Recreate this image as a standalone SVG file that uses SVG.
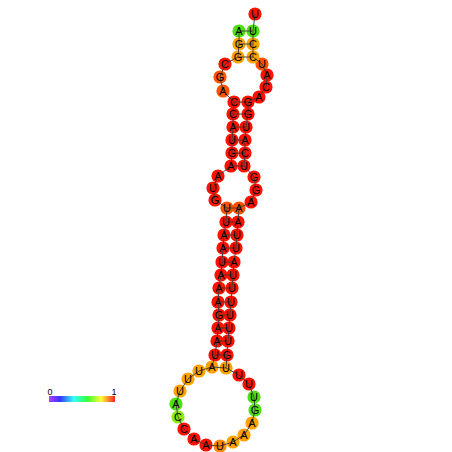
<svg xmlns="http://www.w3.org/2000/svg" width="452" height="452" viewBox="0 0 452 452">
<defs>
<style>
.n circle{stroke:none}
.n text{font-family:"Liberation Sans",Arial,sans-serif;font-size:11px;fill:#000;text-anchor:middle}
.r{fill:#ff1100}.or{fill:#ff5200}.o{fill:#ffa300}.o2{fill:#ff8a00}.g{fill:#4ee010}.yg{fill:#86ee10}
.bb{fill:none;stroke:#3a3a3a;stroke-width:0.9}
.bp{stroke:#3a3a3a;stroke-width:0.9}
.lbl{font-family:"Liberation Sans",Arial,sans-serif;font-size:9px;fill:#000;text-anchor:middle}
</style>
<linearGradient id="cb" x1="0" y1="0" x2="1" y2="0">
<stop offset="0" stop-color="#b040ff"/>
<stop offset="0.167" stop-color="#3535ff"/>
<stop offset="0.375" stop-color="#35ffff"/>
<stop offset="0.583" stop-color="#35ff35"/>
<stop offset="0.79" stop-color="#ffff35"/>
<stop offset="1" stop-color="#ff2020"/>
</linearGradient>
</defs>
<rect width="452" height="452" fill="#fff"/>
<g id="nodes-circles">
<circle class="g" cx="239" cy="31" r="6.6"/>
<circle class="o" cx="239" cy="44" r="6.6"/>
<circle class="o" cx="238" cy="57" r="6.6"/>
<circle class="r" cx="225" cy="64" r="6.6"/>
<circle class="or" cx="220" cy="77" r="6.6"/>
<circle class="or" cx="223" cy="91" r="6.6"/>
<circle class="r" cx="234" cy="102" r="6.6"/>
<circle class="r" cx="233" cy="114" r="6.6"/>
<circle class="r" cx="233" cy="127" r="6.6"/>
<circle class="r" cx="232" cy="140" r="6.6"/>
<circle class="r" cx="232" cy="153" r="6.6"/>
<circle class="r" cx="231" cy="166" r="6.6"/>
<circle class="r" cx="218" cy="176" r="6.6"/>
<circle class="r" cx="213" cy="188" r="6.6"/>
<circle class="r" cx="215" cy="200" r="6.6"/>
<circle class="or" cx="227" cy="208" r="6.6"/>
<circle class="r" cx="226" cy="222" r="6.6"/>
<circle class="r" cx="224" cy="235" r="6.6"/>
<circle class="r" cx="223" cy="248" r="6.6"/>
<circle class="r" cx="222" cy="262" r="6.6"/>
<circle class="r" cx="221" cy="275" r="6.6"/>
<circle class="r" cx="219" cy="288" r="6.6"/>
<circle class="r" cx="218" cy="302" r="6.6"/>
<circle class="r" cx="219" cy="315" r="6.6"/>
<circle class="r" cx="218" cy="328" r="6.6"/>
<circle class="r" cx="217" cy="341" r="6.6"/>
<circle class="r" cx="215" cy="355" r="6.6"/>
<circle class="o" cx="212" cy="367" r="6.6"/>
<circle class="o" cx="199" cy="371" r="6.6"/>
<circle class="o" cx="188" cy="379" r="6.6"/>
<circle class="o" cx="180" cy="391" r="6.6"/>
<circle class="g" cx="176" cy="404" r="6.6"/>
<circle class="yg" cx="178" cy="417" r="6.6"/>
<circle class="r" cx="184" cy="429" r="6.6"/>
<circle class="r" cx="194" cy="439" r="6.6"/>
<circle class="r" cx="206" cy="445" r="6.6"/>
<circle class="o2" cx="220" cy="446" r="6.6"/>
<circle class="o" cx="233" cy="442" r="6.6"/>
<circle class="o" cx="244" cy="435" r="6.6"/>
<circle class="o" cx="252" cy="423" r="6.6"/>
<circle class="g" cx="255" cy="410" r="6.6"/>
<circle class="g" cx="254" cy="397" r="6.6"/>
<circle class="r" cx="249" cy="384" r="6.6"/>
<circle class="r" cx="239" cy="375" r="6.6"/>
<circle class="o" cx="226" cy="368" r="6.6"/>
<circle class="r" cx="227" cy="355" r="6.6"/>
<circle class="r" cx="228" cy="341" r="6.6"/>
<circle class="r" cx="229" cy="328" r="6.6"/>
<circle class="r" cx="230" cy="315" r="6.6"/>
<circle class="r" cx="231" cy="302" r="6.6"/>
<circle class="r" cx="232" cy="288" r="6.6"/>
<circle class="r" cx="233" cy="275" r="6.6"/>
<circle class="r" cx="234" cy="262" r="6.6"/>
<circle class="r" cx="236" cy="248" r="6.6"/>
<circle class="r" cx="237" cy="235" r="6.6"/>
<circle class="r" cx="238" cy="222" r="6.6"/>
<circle class="or" cx="239" cy="208" r="6.6"/>
<circle class="r" cx="251" cy="202" r="6.6"/>
<circle class="r" cx="256" cy="190" r="6.6"/>
<circle class="r" cx="254" cy="177" r="6.6"/>
<circle class="r" cx="244" cy="166" r="6.6"/>
<circle class="r" cx="245" cy="153" r="6.6"/>
<circle class="r" cx="245" cy="140" r="6.6"/>
<circle class="r" cx="246" cy="127" r="6.6"/>
<circle class="r" cx="248" cy="114" r="6.6"/>
<circle class="r" cx="248" cy="102" r="6.6"/>
<circle class="r" cx="259" cy="97" r="6.6"/>
<circle class="r" cx="266" cy="87" r="6.6"/>
<circle class="r" cx="267" cy="75" r="6.6"/>
<circle class="or" cx="262" cy="64" r="6.6"/>
<circle class="o" cx="253" cy="57" r="6.6"/>
<circle class="o" cx="253" cy="44" r="6.6"/>
<circle class="g" cx="253" cy="31" r="6.6"/>
<circle class="r" cx="255" cy="14" r="6.6"/>
</g>
<g id="connectors">
<path class="bb" d="M239,31 L239,44 L238,57 L225,64 L220,77 L223,91 L234,102 L233,114 L233,127 L232,140 L232,153 L231,166 L218,176 L213,188 L215,200 L227,208 L226,222 L224,235 L223,248 L222,262 L221,275 L219,288 L218,302 L219,315 L218,328 L217,341 L215,355 L212,367 L199,371 L188,379 L180,391 L176,404 L178,417 L184,429 L194,439 L206,445 L220,446 L233,442 L244,435 L252,423 L255,410 L254,397 L249,384 L239,375 L226,368 L227,355 L228,341 L229,328 L230,315 L231,302 L232,288 L233,275 L234,262 L236,248 L237,235 L238,222 L239,208 L251,202 L256,190 L254,177 L244,166 L245,153 L245,140 L246,127 L248,114 L248,102 L259,97 L266,87 L267,75 L262,64 L253,57 L253,44 L253,31 L255,14"/>
<path class="bp" d="M239,31 L253,31 M239,44 L253,44 M238,57 L253,57 M234,102 L248,102 M233,114 L248,114 M233,127 L246,127 M232,140 L245,140 M232,153 L245,153 M231,166 L244,166 M227,208 L239,208 M226,222 L238,222 M224,235 L237,235 M223,248 L236,248 M222,262 L234,262 M221,275 L233,275 M219,288 L232,288 M218,302 L231,302 M219,315 L230,315 M218,328 L229,328 M217,341 L228,341 M215,355 L227,355 M212,367 L226,368"/>
</g>
<g id="nodes-labels" class="n">
<g id="n1"><text x="239" y="35">A</text></g>
<g id="n2"><text x="239" y="48">G</text></g>
<g id="n3"><text x="238" y="61">G</text></g>
<g id="n4"><text x="225" y="68">C</text></g>
<g id="n5"><text x="220" y="81">G</text></g>
<g id="n6"><text x="223" y="95">A</text></g>
<g id="n7"><text x="234" y="106">C</text></g>
<g id="n8"><text x="233" y="118">C</text></g>
<g id="n9"><text x="233" y="131">A</text></g>
<g id="n10"><text x="232" y="144">U</text></g>
<g id="n11"><text x="232" y="157">G</text></g>
<g id="n12"><text x="231" y="170">A</text></g>
<g id="n13"><text x="218" y="180">A</text></g>
<g id="n14"><text x="213" y="192">U</text></g>
<g id="n15"><text x="215" y="204">G</text></g>
<g id="n16"><text x="227" y="212">U</text></g>
<g id="n17"><text x="226" y="226">U</text></g>
<g id="n18"><text x="224" y="239">A</text></g>
<g id="n19"><text x="223" y="252">A</text></g>
<g id="n20"><text x="222" y="266">U</text></g>
<g id="n21"><text x="221" y="279">A</text></g>
<g id="n22"><text x="219" y="292">A</text></g>
<g id="n23"><text x="218" y="306">A</text></g>
<g id="n24"><text x="219" y="319">G</text></g>
<g id="n25"><text x="218" y="332">A</text></g>
<g id="n26"><text x="217" y="345">A</text></g>
<g id="n27"><text x="215" y="359">U</text></g>
<g id="n28"><text x="212" y="371">A</text></g>
<g id="n29"><text x="199" y="375">U</text></g>
<g id="n30"><text x="188" y="383">U</text></g>
<g id="n31"><text x="180" y="395">U</text></g>
<g id="n32"><text x="176" y="408">A</text></g>
<g id="n33"><text x="178" y="421">C</text></g>
<g id="n34"><text x="184" y="433">C</text></g>
<g id="n35"><text x="194" y="443">A</text></g>
<g id="n36"><text x="206" y="449">A</text></g>
<g id="n37"><text x="220" y="450">U</text></g>
<g id="n38"><text x="233" y="446">A</text></g>
<g id="n39"><text x="244" y="439">A</text></g>
<g id="n40"><text x="252" y="427">A</text></g>
<g id="n41"><text x="255" y="414">G</text></g>
<g id="n42"><text x="254" y="401">U</text></g>
<g id="n43"><text x="249" y="388">U</text></g>
<g id="n44"><text x="239" y="379">U</text></g>
<g id="n45"><text x="226" y="372">U</text></g>
<g id="n46"><text x="227" y="359">G</text></g>
<g id="n47"><text x="228" y="345">U</text></g>
<g id="n48"><text x="229" y="332">U</text></g>
<g id="n49"><text x="230" y="319">U</text></g>
<g id="n50"><text x="231" y="306">U</text></g>
<g id="n51"><text x="232" y="292">U</text></g>
<g id="n52"><text x="233" y="279">U</text></g>
<g id="n53"><text x="234" y="266">A</text></g>
<g id="n54"><text x="236" y="252">U</text></g>
<g id="n55"><text x="237" y="239">U</text></g>
<g id="n56"><text x="238" y="226">A</text></g>
<g id="n57"><text x="239" y="212">A</text></g>
<g id="n58"><text x="251" y="206">A</text></g>
<g id="n59"><text x="256" y="194">G</text></g>
<g id="n60"><text x="254" y="181">G</text></g>
<g id="n61"><text x="244" y="170">U</text></g>
<g id="n62"><text x="245" y="157">C</text></g>
<g id="n63"><text x="245" y="144">A</text></g>
<g id="n64"><text x="246" y="131">U</text></g>
<g id="n65"><text x="248" y="118">G</text></g>
<g id="n66"><text x="248" y="106">G</text></g>
<g id="n67"><text x="259" y="101">A</text></g>
<g id="n68"><text x="266" y="91">C</text></g>
<g id="n69"><text x="267" y="79">A</text></g>
<g id="n70"><text x="262" y="68">U</text></g>
<g id="n71"><text x="253" y="61">C</text></g>
<g id="n72"><text x="253" y="48">C</text></g>
<g id="n73"><text x="253" y="35">U</text></g>
<g id="n74"><text x="255" y="18">U</text></g>
</g>
<g id="colorbar">
<rect x="49" y="396" width="66" height="6" fill="url(#cb)"/>
<text class="lbl" x="50" y="395">0</text>
<text class="lbl" x="114" y="395">1</text>
</g>
</svg>
